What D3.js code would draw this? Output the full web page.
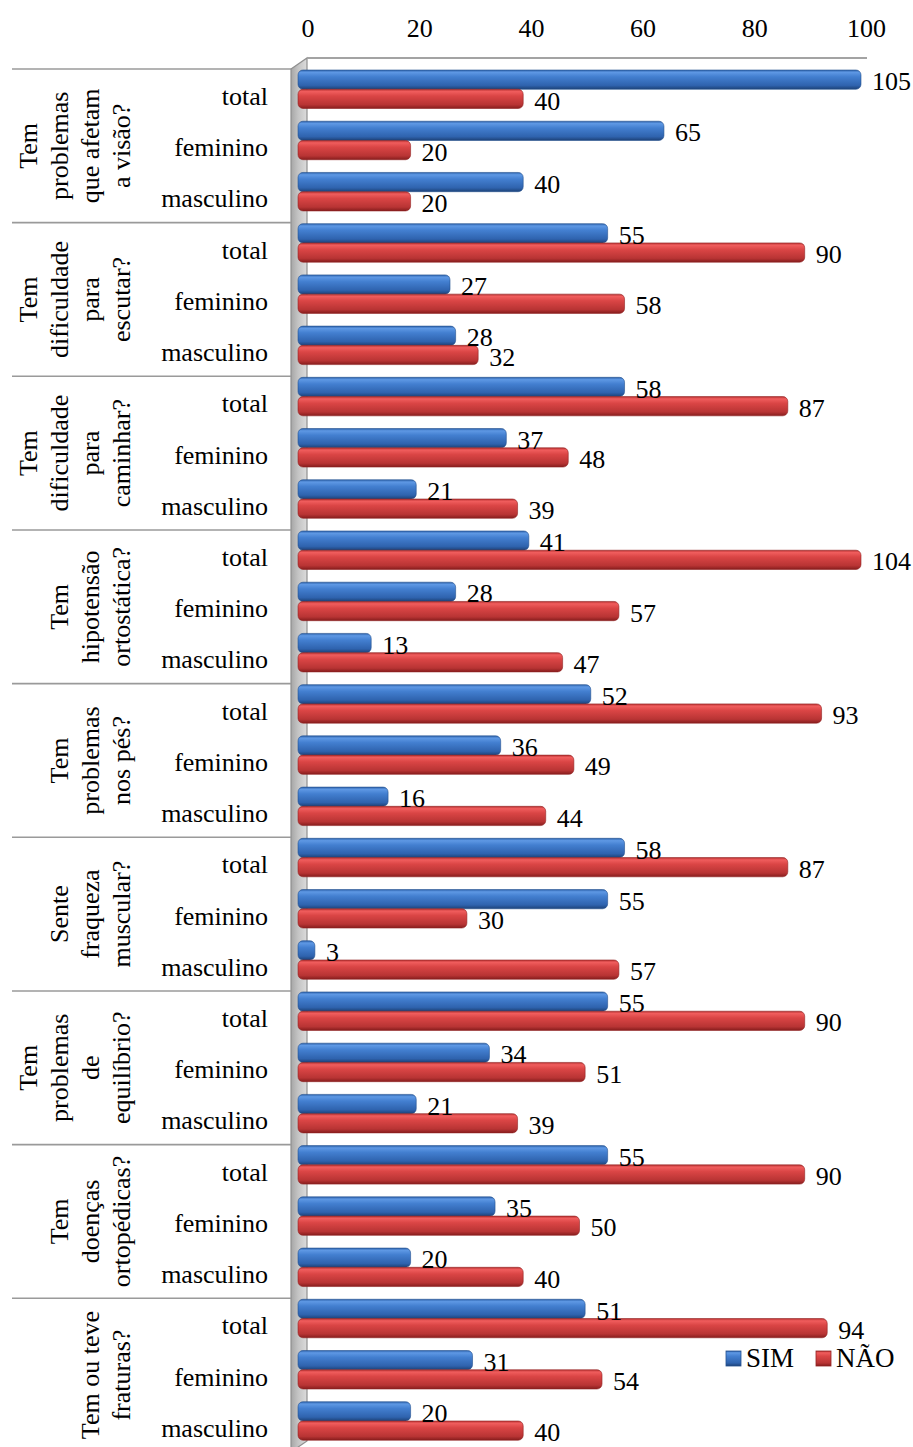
<!DOCTYPE html>
<html>
<head>
<meta charset="utf-8">
<script src="https://cdn.jsdelivr.net/npm/d3@7"></script>
<style>
  body { margin: 0; background: #fff; }
  svg { display: block; }
  text { font-family: "Liberation Serif", "Times New Roman", serif; fill: #000; }
</style>
</head>
<body>
<div id="chart"></div>
<script>
// Questions (group labels), split into the lines they are written on
const questions = [
  ["Tem", "problemas", "que afetam", "a visão?"],
  ["Tem", "dificuldade", "para", "escutar?"],
  ["Tem", "dificuldade", "para", "caminhar?"],
  ["Tem", "hipotensão", "ortostática?"],
  ["Tem", "problemas", "nos pés?"],
  ["Sente", "fraqueza", "muscular?"],
  ["Tem", "problemas", "de", "equilíbrio?"],
  ["Tem", "doenças", "ortopédicas?"],
  ["Tem ou teve", "fraturas?"]
];
const subgroups = ["total", "feminino", "masculino"];
const seriesNames = ["SIM", "NÃO"];

// One value per question × subgroup (total, feminino, masculino)
const simValues = [105, 65, 40, 55, 27, 28, 58, 37, 21, 41, 28, 13, 52, 36, 16, 58, 55, 3, 55, 34, 21, 55, 35, 20, 51, 31, 20];
const naoValues = [40, 20, 20, 90, 58, 32, 87, 48, 39, 104, 57, 47, 93, 49, 44, 87, 30, 57, 90, 51, 39, 90, 50, 40, 94, 54, 40];

const xTicks = [0, 20, 40, 60, 80, 100];

const W = 913, H = 1447;
const rowH = 51.22;
const plotTop = 69;
const nRows = questions.length * subgroups.length;

const svg = d3.select("#chart").append("svg")
  .attr("width", W).attr("height", H);

const defs = svg.append("defs");

function barGradient(id, stops) {
  const g = defs.append("linearGradient").attr("id", id)
    .attr("x1", 0).attr("y1", 0).attr("x2", 0).attr("y2", 1);
  stops.forEach(([o, c]) => g.append("stop").attr("offset", o).attr("stop-color", c));
}
barGradient("gSim", [[0, "#2d62ab"], [0.12, "#5e98e4"], [0.35, "#437fd0"], [0.8, "#2f63ae"], [1, "#1d4278"]]);
barGradient("gNao", [[0, "#b83232"], [0.12, "#f05d5d"], [0.35, "#da4545"], [0.8, "#b83434"], [1, "#861d1d"]]);

const wallGrad = defs.append("linearGradient").attr("id", "gWall")
  .attr("x1", 0).attr("y1", 0).attr("x2", 1).attr("y2", 0);
wallGrad.append("stop").attr("offset", 0).attr("stop-color", "#a6a6a6");
wallGrad.append("stop").attr("offset", 0.45).attr("stop-color", "#c4c4c4");
wallGrad.append("stop").attr("offset", 1).attr("stop-color", "#dcdcdc");

// Scales
const rowKeys = [];
questions.forEach((q, gi) => subgroups.forEach(s => rowKeys.push(gi + "|" + s)));

const y = d3.scaleBand().domain(rowKeys).range([plotTop, plotTop + nRows * rowH]);
const yInner = d3.scaleBand().domain(seriesNames).range([1, 39.5]);
const x = d3.scaleLinear().domain([0, 100]).range([298, 861]).clamp(true);
const xBack = d3.scaleLinear().domain([0, 100]).range([307.5, 866]);

const records = rowKeys.map((k, i) => ({
  key: k,
  group: +k.split("|")[0],
  sub: k.split("|")[1],
  values: [
    { series: "SIM", value: simValues[i] },
    { series: "NÃO", value: naoValues[i] }
  ]
}));

// Top value axis (on the back wall)
const axis = d3.axisTop(xBack).tickValues(xTicks).tickSize(0).tickPadding(0);
const axisG = svg.append("g").attr("transform", "translate(0,37)").call(axis);
axisG.select(".domain").remove();
axisG.selectAll("text")
  .attr("font-size", 26)
  .attr("font-family", "Liberation Serif, Times New Roman, serif")
  .attr("fill", "#000")
  .attr("dy", 0);

// Side wall of the 3D box
const backTop = 58, depthX = 16, depthY = 11;
const wallX = 291;
const bottomFront = plotTop + nRows * rowH;
svg.append("polygon")
  .attr("points", [
    [wallX, plotTop], [wallX + depthX, backTop],
    [wallX + depthX, bottomFront - depthY], [wallX, bottomFront]
  ].map(p => p.join(",")).join(" "))
  .attr("fill", "url(#gWall)")
  .attr("stroke", "#8f8f8f")
  .attr("stroke-width", 1.2);

// Top edge of the back wall
svg.append("line")
  .attr("x1", wallX + depthX).attr("x2", 867)
  .attr("y1", backTop).attr("y2", backTop)
  .attr("stroke", "#a3a3a3").attr("stroke-width", 2);

// Group separators on the category axis
const groupBounds = d3.range(questions.length + 1).map(i => plotTop + i * 3 * rowH);
svg.append("g").selectAll("line").data(groupBounds).join("line")
  .attr("x1", 12).attr("x2", wallX)
  .attr("y1", d => d).attr("y2", d => d)
  .attr("stroke", "#9a9a9a").attr("stroke-width", 1.6);

// Bars
const rowsG = svg.append("g").selectAll("g").data(records).join("g")
  .attr("transform", d => `translate(0,${y(d.key)})`);

rowsG.selectAll("rect").data(d => d.values).join("rect")
  .attr("x", x(0))
  .attr("y", d => yInner(d.series))
  .attr("width", d => x(d.value) - x(0))
  .attr("height", yInner.bandwidth())
  .attr("rx", 5).attr("ry", 5)
  .attr("fill", d => d.series === "SIM" ? "url(#gSim)" : "url(#gNao)")
  .attr("stroke", d => d.series === "SIM" ? "#24508f" : "#922424")
  .attr("stroke-width", 0.6);

// Value labels
rowsG.selectAll("text.val").data(d => d.values).join("text")
  .attr("class", "val")
  .attr("x", d => x(d.value) + 11)
  .attr("y", d => yInner(d.series) + yInner.bandwidth() + 1)
  .attr("font-size", 26)
  .text(d => d.value);

// Subgroup labels
svg.append("g").selectAll("text").data(records).join("text")
  .attr("x", 268)
  .attr("y", d => y(d.key) + 36)
  .attr("text-anchor", "end")
  .attr("font-size", 26)
  .text(d => d.sub);

// Question labels, rotated
const qG = svg.append("g").selectAll("g").data(questions).join("g");
qG.each(function (lines, gi) {
  const cy = plotTop + (gi * 3 + 1.5) * rowH;
  const n = lines.length;
  d3.select(this).selectAll("text").data(lines).join("text")
    .attr("transform", (t, i) => `translate(${130 - 31 * (n - 1 - i)},${cy}) rotate(-90)`)
    .attr("text-anchor", "middle")
    .attr("font-size", 26)
    .text(t => t);
});

// Legend
const legend = svg.append("g").attr("transform", "translate(726,1351)");
const legendItems = [
  { name: "SIM", fill: "url(#gSim)", stroke: "#24508f", dx: 0 },
  { name: "NÃO", fill: "url(#gNao)", stroke: "#922424", dx: 90 }
];
const li = legend.selectAll("g").data(legendItems).join("g")
  .attr("transform", d => `translate(${d.dx},0)`);
li.append("rect").attr("width", 15).attr("height", 15)
  .attr("fill", d => d.fill).attr("stroke", d => d.stroke).attr("stroke-width", 0.8);
li.append("text").attr("x", 20).attr("y", 16).attr("font-size", 27).text(d => d.name);
</script>
</body>
</html>
